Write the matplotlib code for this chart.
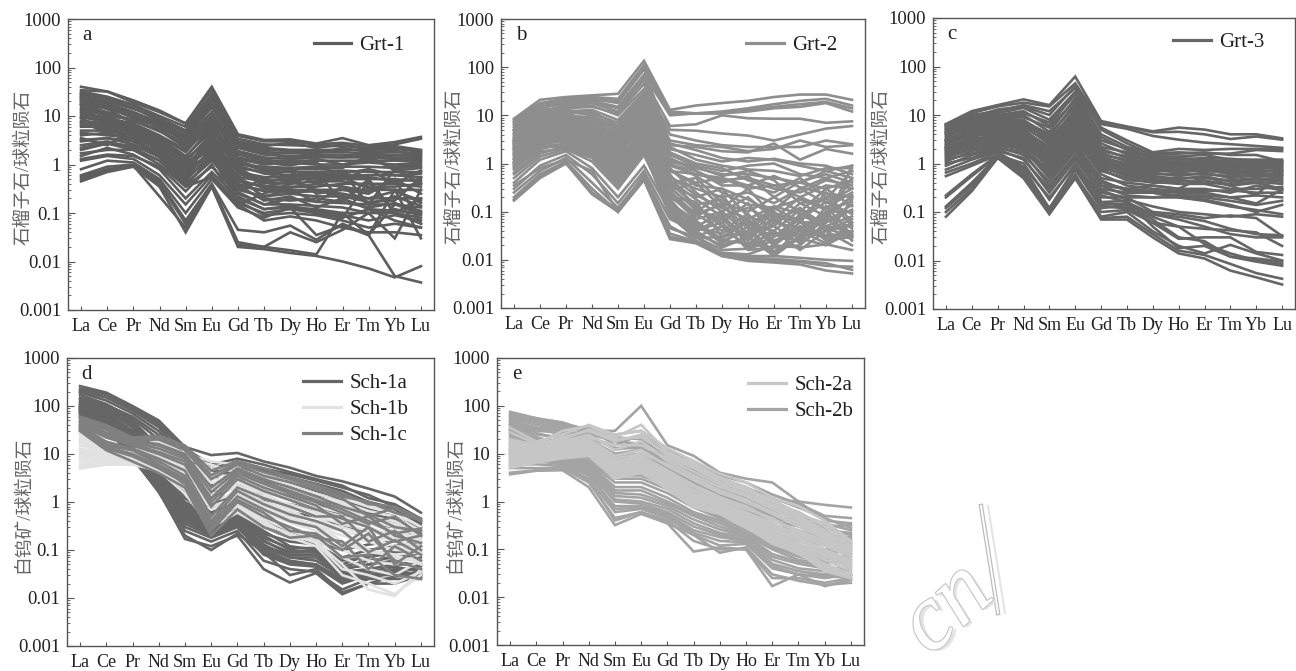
import matplotlib
matplotlib.use('Agg')
import matplotlib.pyplot as plt
import matplotlib.patheffects as pe
from matplotlib.lines import Line2D

plt.rcParams['font.family'] = ['Liberation Serif', 'Noto Sans CJK SC', 'DejaVu Sans']

ree = ['La', 'Ce', 'Pr', 'Nd', 'Sm', 'Eu', 'Gd', 'Tb', 'Dy', 'Ho', 'Er', 'Tm', 'Yb', 'Lu']
y_ticks = [0.001, 0.01, 0.1, 1, 10, 100, 1000]
y_labels = ['0.001', '0.01', '0.1', '1', '10', '100', '1000']
garnet_label = '石榴子石/球粒陨石'
scheelite_label = '白钨矿/球粒陨石'

grt1 = [
    [40, 32, 21, 13, 7, 40, 4.2, 3.2, 3.3, 2.7, 3.5, 2.5, 2.9, 3.7],
    [34, 32, 19, 12, 7, 34, 3.9, 3, 3, 2.6, 2.8, 2.4, 2.6, 3.4],
    [30, 24, 17, 10, 6, 28, 3.4, 2.6, 2.5, 2.4, 2.4, 2.2, 2.4, 2],
    [25, 20, 14, 9, 5, 22, 2.8, 2.2, 2, 2, 2, 2, 2.1, 1.9],
    [22, 18, 12, 7, 4, 18, 2.4, 1.8, 1.7, 1.8, 1.8, 1.7, 1.8, 1.7],
    [20, 15, 11, 6.5, 3.5, 15, 2.2, 1.6, 1.5, 1.6, 1.6, 1.5, 1.6, 1.5],
    [18, 14, 10, 6, 3, 12, 1.9, 1.4, 1.3, 1.4, 1.4, 1.4, 1.3, 1.3],
    [15, 11, 8, 5, 2.5, 9, 1.6, 1.2, 1.2, 1.2, 1.2, 1.2, 1.2, 1.2],
    [12, 9, 7, 4, 2, 6, 1.3, 1, 1.1, 1, 1, 1.1, 1, 1.1],
    [10, 8, 6, 3.5, 1.5, 5, 1, 0.9, 0.85, 0.9, 0.9, 0.9, 0.85, 0.9],
    [8, 7, 5, 3, 1.2, 4, 0.85, 0.7, 0.7, 0.7, 0.75, 0.7, 0.7, 0.7],
    [6, 6, 4.5, 2.5, 1, 3, 0.7, 0.55, 0.55, 0.6, 0.6, 0.6, 0.6, 0.55],
    [5, 5, 4, 2, 0.8, 2.5, 0.55, 0.45, 0.5, 0.5, 0.5, 0.5, 0.5, 0.45],
    [4, 4.5, 3, 1.7, 0.6, 2, 0.45, 0.35, 0.35, 0.35, 0.4, 0.4, 0.4, 0.35],
    [3, 3.5, 2.6, 1.4, 0.5, 1.5, 0.35, 0.3, 0.3, 0.3, 0.3, 0.3, 0.3, 0.3],
    [2.5, 3, 2.2, 1.2, 0.4, 1.2, 0.3, 0.22, 0.25, 0.22, 0.22, 0.2, 0.2, 0.2],
    [2, 2.7, 2, 1, 0.35, 0.9, 0.25, 0.15, 0.2, 0.17, 0.16, 0.15, 0.15, 0.13],
    [1.5, 2.2, 1.6, 0.8, 0.2, 0.7, 0.2, 0.12, 0.13, 0.12, 0.1, 0.1, 0.1, 0.08],
    [1.2, 1.5, 1.3, 0.6, 0.15, 0.6, 0.16, 0.1, 0.12, 0.1, 0.08, 0.12, 0.07, 0.05],
    [0.8, 1.2, 1.1, 0.5, 0.1, 0.5, 0.13, 0.08, 0.13, 0.035, 0.055, 0.035, 0.3, 0.03],
    [0.6, 0.9, 1, 0.45, 0.07, 0.4, 0.045, 0.04, 0.055, 0.028, 0.06, 0.035, 0.15, 0.1],
    [0.55, 0.8, 0.95, 0.4, 0.06, 0.38, 0.025, 0.02, 0.04, 0.025, 0.045, 0.1, 0.03, 0.3],
    [0.45, 0.7, 0.9, 0.35, 0.04, 0.35, 0.02, 0.018, 0.015, 0.013, 0.01, 0.0072, 0.0047, 0.008],
    [0.5, 0.75, 0.95, 0.22, 0.05, 0.36, 0.022, 0.02, 0.017, 0.014, 0.1, 0.035, 0.005, 0.0037],
    [9, 5, 4, 3, 0.9, 1.5, 0.6, 0.2, 0.13, 0.1, 0.08, 0.45, 0.1, 0.06],
    [17, 6, 3, 1.5, 0.35, 0.55, 0.15, 0.25, 0.4, 0.7, 0.17, 0.5, 0.1, 0.2],
    [28, 9, 6, 2.5, 0.9, 2.2, 0.3, 0.5, 0.8, 0.5, 0.7, 0.15, 0.8, 0.4],
    [3.5, 2.5, 5, 1.8, 0.7, 1.7, 0.9, 0.4, 0.6, 0.25, 0.3, 0.25, 0.5, 0.06],
    [32, 25, 17, 9, 5, 26, 3, 2.4, 2.8, 2.2, 2.6, 2, 2.2, 1.8],
    [28, 22, 15, 8, 4.5, 20, 2.6, 2, 1.9, 1.7, 2.2, 1.8, 1.9, 1.6],
    [24, 18, 12, 7.5, 3.8, 17, 2.3, 1.7, 1.4, 1.5, 1.4, 1.6, 1.4, 1.4],
    [21, 15, 9, 6, 3.2, 12, 1.4, 1.1, 0.95, 1.3, 1, 1.3, 0.9, 1],
    [17, 12, 8, 4.8, 2.8, 10, 1.2, 0.8, 0.8, 0.8, 0.85, 1.5, 0.75, 0.85],
    [14, 10, 8.5, 5, 2.2, 8, 0.95, 0.65, 0.6, 0.65, 0.65, 0.8, 0.6, 0.65],
    [11, 9, 6.5, 3.8, 1.8, 7, 0.75, 0.5, 0.45, 0.55, 0.55, 0.55, 0.45, 0.5],
    [9.5, 7.5, 5.5, 3.2, 1.4, 6, 0.65, 0.42, 0.4, 0.45, 0.45, 0.35, 0.35, 0.4],
    [7, 6.5, 5, 2.8, 1.1, 4.5, 0.5, 0.33, 0.33, 0.4, 0.35, 0.28, 0.5, 0.25],
    [6.5, 5.5, 4, 2.4, 0.9, 3.5, 0.4, 0.28, 0.27, 0.28, 0.25, 0.2, 0.28, 0.18],
    [4.5, 4, 3.6, 2, 0.75, 2.8, 0.33, 0.2, 0.18, 0.2, 0.17, 0.13, 0.16, 0.11],
    [3.2, 3.5, 3, 1.8, 0.55, 2.2, 0.27, 0.15, 0.15, 0.14, 0.13, 0.1, 0.12, 0.09],
    [2.2, 2.8, 2.4, 1.5, 0.45, 1.8, 0.22, 0.12, 0.14, 0.11, 0.09, 0.07, 0.09, 0.07],
    [1.7, 2, 2, 1.2, 0.37, 1.4, 0.18, 0.09, 0.1, 0.09, 0.07, 0.05, 0.06, 0.05],
    [1.3, 1.6, 1.5, 0.9, 0.28, 1, 0.15, 0.07, 0.085, 0.07, 0.05, 0.04, 0.04, 0.035],
    [23, 14, 7, 3.5, 1.3, 3.2, 1.1, 0.75, 0.7, 0.4, 0.55, 0.32, 0.3, 0.16],
    [19, 10, 6, 3, 1, 2.6, 0.8, 0.35, 0.45, 0.3, 0.22, 0.17, 0.18, 0.55],
    [26, 16, 11, 5.5, 2.4, 5, 1.8, 1.3, 1, 1.1, 0.5, 0.8, 0.4, 0.75],
    [13, 8, 4.5, 2.2, 0.7, 1.8, 0.5, 0.22, 0.3, 0.17, 0.35, 0.15, 0.22, 0.14],
    [7.5, 4.5, 3.4, 1.6, 0.55, 1.3, 0.38, 0.18, 0.22, 0.13, 0.2, 0.12, 0.11, 0.1],
]

grt2 = [
    [8.5, 21, 24, 26, 28, 135, 13, 16, 18, 20, 24, 27, 27, 21],
    [8, 18, 22, 24, 22, 110, 12, 11, 12, 14, 17, 20, 22, 16],
    [7, 15, 20, 22, 18, 90, 11, 11, 11, 13, 15, 17, 19, 14],
    [6, 14, 18, 20, 15, 70, 10, 11, 11, 12, 14, 15, 18, 12],
    [5, 12, 16, 18, 12, 55, 6, 6.5, 10, 8.7, 8.5, 8.5, 7, 7.5],
    [4.5, 12, 15, 16, 10, 35, 5, 4.8, 4.2, 3.8, 3, 4, 5.3, 6],
    [4, 10, 12, 13, 8, 30, 4, 3, 2.4, 2.2, 2.2, 2.2, 3, 2.5],
    [3.5, 9, 11, 12, 6, 25, 3, 2.4, 2.2, 1.8, 2, 3, 2.2, 2.4],
    [3, 9, 10, 9, 5, 20, 2.4, 2.2, 1.8, 1.7, 2.6, 1.2, 2, 1.6],
    [2.8, 8, 9, 7, 4, 16, 2, 1.5, 1.1, 1.3, 1.2, 0.9, 0.7, 0.9],
    [2.5, 7, 8, 6, 3.5, 12, 1.5, 0.9, 0.7, 0.9, 1, 0.6, 0.5, 0.7],
    [2.2, 6.5, 7, 5.5, 3, 9, 1.1, 0.8, 0.6, 0.6, 0.5, 0.4, 0.7, 0.5],
    [2, 6, 6, 5, 2.5, 8, 0.9, 0.6, 0.45, 0.5, 0.35, 0.4, 0.3, 0.45],
    [1.8, 5, 5.5, 4.5, 2, 7, 0.7, 0.4, 0.5, 0.3, 0.35, 0.2, 0.35, 0.3],
    [1.6, 4.5, 5, 4, 1.6, 6, 0.5, 0.3, 0.2, 0.25, 0.15, 0.3, 0.15, 0.3],
    [1.4, 4, 4.5, 3.5, 1.3, 5, 0.4, 0.5, 0.15, 0.1, 0.2, 0.1, 0.3, 0.13],
    [1.2, 3.5, 4, 3, 1, 4, 0.35, 0.2, 0.3, 0.08, 0.05, 0.15, 0.08, 0.2],
    [1, 3, 3.5, 2.5, 0.9, 3.5, 0.3, 0.12, 0.06, 0.15, 0.03, 0.08, 0.2, 0.05],
    [0.9, 2.5, 3, 2, 0.7, 3, 0.25, 0.08, 0.15, 0.03, 0.1, 0.04, 0.1, 0.1],
    [0.8, 2, 2.6, 1.8, 0.5, 2.5, 0.2, 0.16, 0.03, 0.06, 0.02, 0.05, 0.03, 0.04],
    [0.6, 1.6, 2.3, 1.4, 0.4, 2, 0.15, 0.05, 0.09, 0.02, 0.06, 0.12, 0.05, 0.08],
    [0.5, 1.4, 2, 1.1, 0.3, 1.5, 0.12, 0.06, 0.025, 0.04, 0.015, 0.03, 0.07, 0.035],
    [0.4, 1.2, 1.8, 0.8, 0.2, 0.9, 0.1, 0.03, 0.05, 0.018, 0.03, 0.07, 0.025, 0.03],
    [0.3, 0.9, 1.5, 0.6, 0.15, 0.7, 0.07, 0.04, 0.018, 0.03, 0.012, 0.03, 0.04, 0.02],
    [0.25, 0.7, 1.3, 0.4, 0.12, 0.55, 0.05, 0.025, 0.014, 0.013, 0.02, 0.018, 0.021, 0.016],
    [0.2, 0.6, 1.1, 0.3, 0.1, 0.5, 0.035, 0.024, 0.013, 0.012, 0.012, 0.011, 0.01, 0.0095],
    [0.18, 0.55, 1.05, 0.25, 0.1, 0.47, 0.03, 0.023, 0.012, 0.01, 0.0095, 0.009, 0.0075, 0.0072],
    [0.17, 0.5, 1, 0.23, 0.1, 0.45, 0.027, 0.022, 0.012, 0.0095, 0.0088, 0.008, 0.006, 0.0052],
    [0.35, 0.8, 1.2, 0.7, 0.1, 0.6, 0.045, 0.03, 0.013, 0.011, 0.0105, 0.0095, 0.0085, 0.0062],
    [3.2, 9, 10, 6, 2.2, 14, 0.8, 0.25, 0.1, 0.2, 0.07, 0.2, 0.12, 0.25],
    [5, 11, 9, 8, 3, 11, 0.6, 0.1, 0.22, 0.05, 0.12, 0.06, 0.25, 0.06],
    [2, 5, 6, 3, 0.8, 4.5, 0.28, 0.4, 0.12, 0.3, 0.08, 0.06, 0.06, 0.9],
    [7.5, 17, 21, 21, 20, 95, 2.6, 1.9, 1.3, 1.1, 1.25, 1, 0.9, 0.6],
    [6.5, 15, 17, 19, 14, 62, 2.2, 1.2, 0.9, 0.75, 0.7, 0.55, 0.8, 0.8],
    [5.5, 13, 14, 15, 11, 45, 1.7, 1, 0.8, 0.45, 0.3, 0.25, 0.45, 0.35],
    [4.2, 11, 13, 11, 7, 28, 1.3, 0.7, 0.35, 0.35, 0.25, 0.5, 0.2, 0.22],
    [3.7, 10, 12, 10, 5.5, 22, 1, 0.55, 0.25, 0.14, 0.12, 0.18, 0.11, 0.16],
    [3.3, 8.5, 10, 8, 4.5, 18, 0.75, 0.35, 0.3, 0.18, 0.09, 0.07, 0.16, 0.09],
    [2.9, 7.5, 8.5, 6.5, 3.8, 14, 0.55, 0.22, 0.12, 0.07, 0.13, 0.09, 0.06, 0.14],
    [2.6, 7, 7.5, 5.8, 3.2, 11, 0.45, 0.18, 0.08, 0.12, 0.06, 0.045, 0.09, 0.045],
    [2.3, 6, 6.5, 5, 2.8, 9.5, 0.38, 0.14, 0.18, 0.055, 0.04, 0.11, 0.04, 0.07],
    [2.1, 5.5, 5.8, 4.5, 2.2, 8.5, 0.32, 0.11, 0.07, 0.025, 0.08, 0.025, 0.13, 0.032],
    [1.9, 5, 5, 4, 1.9, 7.5, 0.26, 0.09, 0.04, 0.09, 0.022, 0.06, 0.03, 0.18],
    [1.7, 4.5, 4.6, 3.7, 1.5, 6.5, 0.22, 0.07, 0.1, 0.035, 0.05, 0.022, 0.05, 0.038],
    [1.5, 4, 4.2, 3.2, 1.2, 5.5, 0.18, 0.045, 0.035, 0.07, 0.025, 0.04, 0.022, 0.06],
    [1.3, 3.7, 3.8, 2.8, 1.1, 4.5, 0.15, 0.065, 0.025, 0.022, 0.035, 0.033, 0.033, 0.028],
    [1.1, 3.2, 3.2, 2.3, 0.8, 3.8, 0.13, 0.04, 0.06, 0.016, 0.018, 0.02, 0.06, 0.11],
    [0.95, 2.8, 2.8, 2, 0.6, 3.2, 0.11, 0.035, 0.02, 0.03, 0.014, 0.028, 0.02, 0.04],
    [0.75, 2.2, 2.2, 1.5, 0.45, 2.2, 0.09, 0.03, 0.016, 0.017, 0.025, 0.035, 0.08, 0.5],
    [0.65, 1.8, 2, 1.3, 0.35, 1.8, 0.08, 0.028, 0.03, 0.04, 0.11, 0.3, 0.5, 0.3],
    [2.4, 6.5, 7, 4.2, 1.4, 10, 0.7, 0.6, 0.5, 0.35, 0.55, 0.32, 0.24, 0.2],
    [3, 8, 8, 5, 1.8, 12, 0.95, 0.7, 0.4, 0.55, 0.2, 0.42, 0.6, 0.4],
    [4.8, 10, 11, 7.5, 2.6, 16, 1.2, 0.85, 0.55, 0.7, 0.45, 0.15, 0.18, 0.7],
    [2.7, 6.8, 7.2, 5, 2, 8, 0.42, 0.13, 0.05, 0.018, 0.04, 0.016, 0.04, 0.055],
    [1.25, 3.4, 3.6, 2.6, 1, 4.2, 0.14, 0.055, 0.022, 0.05, 0.013, 0.045, 0.028, 0.035],
    [1.05, 3, 3, 2.2, 0.75, 3.4, 0.12, 0.038, 0.08, 0.028, 0.07, 0.03, 0.1, 0.025],
    [0.85, 2.4, 2.5, 1.6, 0.55, 2.6, 0.1, 0.05, 0.028, 0.065, 0.02, 0.09, 0.045, 0.03],
    [1.55, 4.2, 4.4, 3.4, 1.25, 5, 0.2, 0.09, 0.14, 0.045, 0.033, 0.024, 0.08, 0.21],
]

grt3 = [
    [6.5, 12, 16, 21, 16, 62, 7.5, 5.8, 4.6, 5.5, 5, 4, 4, 3.3],
    [6.4, 11, 15, 18, 15, 45, 7, 5.6, 4.4, 4.5, 4, 3.2, 3.6, 3.1],
    [6, 9, 13, 15, 10, 40, 6.5, 5.2, 3.7, 3.1, 2.7, 2.5, 2.3, 2.1],
    [5.5, 9, 11, 14, 8, 30, 5.5, 3, 1.7, 2, 1.9, 2, 2, 2],
    [5, 8, 10, 12, 6, 28, 4, 2.2, 1.6, 1.7, 1.6, 1.6, 1.9, 1.8],
    [4.5, 7, 9, 10, 4.5, 22, 3, 2, 1.4, 1.4, 1.5, 1.2, 1.2, 1.2],
    [4, 6.5, 8, 8, 3.5, 18, 2.2, 1.7, 1.3, 1.3, 1.2, 1.1, 1.1, 1.1],
    [3.5, 6, 7, 7, 3, 13, 1.8, 1.4, 1.1, 1.1, 1.1, 1, 1, 1],
    [3, 5, 6, 6, 2.5, 10, 1.5, 1.2, 1, 1, 1, 0.9, 0.9, 0.9],
    [2.7, 4.5, 5.5, 5, 2, 8, 1.3, 1, 0.9, 0.9, 0.9, 0.8, 0.8, 0.8],
    [2.4, 4, 5, 4.5, 1.7, 6, 1.1, 0.9, 0.8, 0.75, 0.8, 0.7, 0.7, 0.7],
    [2.1, 3.5, 4.5, 4, 1.4, 5, 1, 0.8, 0.7, 0.7, 0.7, 0.65, 0.6, 0.6],
    [1.9, 3, 4, 3.5, 1.2, 4, 0.9, 0.7, 0.6, 0.6, 0.6, 0.55, 0.55, 0.55],
    [1.7, 2.8, 3.5, 3, 1, 3.5, 0.8, 0.6, 0.5, 0.5, 0.5, 0.45, 0.5, 0.45],
    [1.5, 2.5, 3, 2.6, 0.8, 3, 0.7, 0.5, 0.4, 0.42, 0.45, 0.35, 0.4, 0.3],
    [1.3, 2, 2.6, 2.2, 0.6, 2.5, 0.5, 0.4, 0.35, 0.3, 0.3, 0.25, 0.35, 0.28],
    [1.1, 1.8, 2.4, 2, 0.5, 2, 0.4, 0.3, 0.27, 0.25, 0.25, 0.2, 0.15, 0.29],
    [0.9, 1.5, 2.1, 1.7, 0.35, 1.5, 0.3, 0.25, 0.25, 0.2, 0.18, 0.14, 0.1, 0.14],
    [0.75, 1.2, 1.8, 1.3, 0.25, 1.2, 0.25, 0.2, 0.2, 0.2, 0.17, 0.13, 0.11, 0.09],
    [0.55, 0.9, 1.5, 1, 0.18, 1, 0.2, 0.2, 0.1, 0.09, 0.075, 0.085, 0.075, 0.032],
    [0.22, 0.6, 1.5, 0.8, 0.12, 0.8, 0.14, 0.15, 0.09, 0.08, 0.065, 0.045, 0.035, 0.033],
    [0.2, 0.55, 1.45, 0.7, 0.11, 0.75, 0.12, 0.14, 0.08, 0.05, 0.045, 0.042, 0.038, 0.02],
    [0.13, 0.4, 1.4, 0.6, 0.1, 0.55, 0.1, 0.11, 0.06, 0.028, 0.03, 0.03, 0.015, 0.013],
    [0.08, 0.27, 1.3, 0.5, 0.09, 0.5, 0.08, 0.1, 0.04, 0.02, 0.014, 0.021, 0.014, 0.01],
    [0.1, 0.3, 1.35, 0.55, 0.1, 0.5, 0.07, 0.07, 0.03, 0.014, 0.011, 0.0062, 0.0045, 0.0032],
    [0.12, 0.35, 1.4, 0.6, 0.1, 0.6, 0.075, 0.08, 0.035, 0.016, 0.013, 0.0085, 0.0055, 0.0042],
    [3, 4, 4, 2.5, 0.9, 4, 0.16, 0.17, 0.05, 0.018, 0.02, 0.012, 0.0095, 0.0078],
    [2.2, 3.2, 3.5, 1.8, 0.7, 3, 0.13, 0.12, 0.06, 0.05, 0.022, 0.014, 0.01, 0.0085],
    [4.2, 5, 6, 7, 4, 2.7, 0.35, 0.3, 0.35, 0.3, 0.55, 0.35, 0.22, 0.7],
    [6.2, 10, 12, 16, 12, 36, 5, 2.6, 1.5, 1.6, 1.7, 1.5, 1.5, 1.1],
    [5.8, 8.5, 9.5, 11, 7, 26, 3.5, 1.9, 1.25, 1.2, 1.3, 1.25, 1.15, 1.05],
    [5.2, 7.5, 8.5, 9, 5.5, 20, 2.6, 1.55, 1.15, 1.05, 1.15, 0.95, 1.05, 0.95],
    [4.8, 7, 7.5, 7.5, 4, 15, 2, 1.3, 1.05, 0.95, 1.05, 0.85, 0.95, 0.85],
    [4.3, 6, 6.5, 6.5, 3.2, 12, 1.65, 1.1, 0.95, 0.85, 0.95, 0.75, 0.85, 0.75],
    [3.8, 5.5, 6, 5.5, 2.8, 11, 1.4, 0.95, 0.85, 0.8, 0.85, 0.68, 0.75, 0.65],
    [3.2, 5, 5.2, 4.8, 2.2, 9, 1.2, 0.85, 0.75, 0.65, 0.75, 0.6, 0.65, 0.58],
    [2.9, 4.2, 4.8, 4.2, 1.9, 7, 1.05, 0.75, 0.65, 0.55, 0.65, 0.5, 0.58, 0.5],
    [2.5, 3.8, 4.2, 3.8, 1.6, 5.5, 0.95, 0.65, 0.55, 0.48, 0.55, 0.42, 0.47, 0.42],
    [2.2, 3.2, 3.8, 3.2, 1.3, 4.5, 0.85, 0.55, 0.45, 0.45, 0.4, 0.38, 0.42, 0.38],
    [2, 3, 3.4, 2.8, 1.1, 3.8, 0.75, 0.45, 0.42, 0.38, 0.38, 0.3, 0.3, 0.33],
    [1.8, 2.6, 3.1, 2.4, 0.9, 3.2, 0.6, 0.35, 0.3, 0.27, 0.27, 0.28, 0.25, 0.25],
    [1.6, 2.3, 2.8, 2.1, 0.7, 2.7, 0.45, 0.27, 0.25, 0.22, 0.22, 0.2, 0.22, 0.2],
    [1.4, 2.1, 2.4, 1.9, 0.55, 2.2, 0.35, 0.22, 0.2, 0.22, 0.2, 0.17, 0.14, 0.17],
    [1.2, 1.6, 2.2, 1.5, 0.42, 1.8, 0.28, 0.18, 0.13, 0.1, 0.09, 0.08, 0.09, 0.08],
    [1, 1.3, 2, 1.2, 0.3, 1.4, 0.22, 0.16, 0.09, 0.07, 0.05, 0.035, 0.03, 0.03],
    [0.65, 1, 1.7, 0.85, 0.2, 0.9, 0.16, 0.13, 0.07, 0.03, 0.025, 0.012, 0.011, 0.0095],
]

sch1a = [
    [260, 190, 100, 50, 14, 9.5, 10.5, 7, 5.2, 3.5, 2.7, 1.9, 1.3, 0.6],
    [210, 170, 90, 40, 12, 5, 7, 5, 3.8, 2.8, 2, 1.4, 0.8, 0.4],
    [190, 130, 70, 30, 8, 3, 5, 4, 3, 2.2, 1.4, 1, 0.7, 0.35],
    [170, 110, 55, 20, 4, 1.5, 3, 2.8, 2.2, 1.4, 1.1, 0.7, 0.5, 0.25],
    [140, 100, 48, 10, 2.5, 0.9, 1.5, 1.5, 1.4, 1, 0.5, 0.6, 0.35, 0.3],
    [120, 90, 42, 7, 1.5, 0.6, 1, 0.8, 0.6, 0.5, 0.3, 0.25, 0.22, 0.2],
    [110, 85, 35, 5, 1, 0.5, 0.6, 0.4, 0.25, 0.12, 0.07, 0.1, 0.12, 0.15],
    [100, 75, 30, 4, 0.8, 0.4, 0.55, 0.25, 0.12, 0.1, 0.05, 0.08, 0.1, 0.1],
    [95, 70, 25, 3.5, 0.7, 0.35, 0.5, 0.2, 0.1, 0.09, 0.04, 0.05, 0.08, 0.07],
    [90, 60, 20, 3, 0.6, 0.3, 0.45, 0.16, 0.08, 0.08, 0.035, 0.04, 0.05, 0.05],
    [85, 55, 15, 2.5, 0.5, 0.25, 0.4, 0.13, 0.07, 0.07, 0.03, 0.03, 0.04, 0.04],
    [80, 50, 12, 2, 0.4, 0.22, 0.35, 0.1, 0.06, 0.05, 0.025, 0.025, 0.035, 0.03],
    [75, 45, 10, 1.9, 0.3, 0.18, 0.3, 0.08, 0.05, 0.045, 0.02, 0.03, 0.03, 0.028],
    [70, 40, 9, 1.8, 0.25, 0.15, 0.25, 0.06, 0.04, 0.035, 0.015, 0.025, 0.025, 0.025],
    [60, 35, 8, 1.7, 0.17, 0.12, 0.2, 0.04, 0.021, 0.033, 0.012, 0.02, 0.02, 0.03],
    [65, 38, 8.5, 1.6, 0.2, 0.1, 0.22, 0.09, 0.03, 0.04, 0.013, 0.02, 0.028, 0.035],
    [230, 180, 95, 45, 13, 6, 8, 6, 4.2, 3, 2.2, 1.2, 0.9, 0.45],
    [200, 150, 80, 36, 9, 4, 6, 4.5, 3.3, 2.4, 1.7, 1, 0.75, 0.38],
    [150, 105, 60, 25, 6, 2.2, 4, 3.2, 2.5, 1.7, 1.2, 0.55, 0.45, 0.3],
    [130, 95, 50, 14, 3, 1.2, 2.2, 2, 1.7, 1.2, 0.8, 0.45, 0.4, 0.22],
    [115, 92, 46, 9, 2, 0.75, 1.2, 1.1, 0.9, 0.7, 0.6, 0.35, 0.3, 0.18],
    [105, 80, 38, 6, 1.2, 0.55, 0.7, 0.3, 0.2, 0.15, 0.1, 0.13, 0.15, 0.12],
    [98, 72, 28, 4.5, 0.9, 0.42, 0.58, 0.22, 0.15, 0.13, 0.06, 0.07, 0.09, 0.08],
    [92, 65, 22, 3.8, 0.75, 0.38, 0.52, 0.18, 0.11, 0.11, 0.045, 0.06, 0.07, 0.06],
    [88, 58, 18, 3.2, 0.65, 0.32, 0.48, 0.15, 0.09, 0.095, 0.04, 0.05, 0.06, 0.045],
    [82, 52, 14, 2.7, 0.55, 0.28, 0.42, 0.12, 0.08, 0.08, 0.033, 0.035, 0.045, 0.035],
    [78, 48, 11, 2.2, 0.45, 0.24, 0.38, 0.11, 0.07, 0.06, 0.028, 0.028, 0.038, 0.03],
    [72, 42, 9.5, 2, 0.35, 0.2, 0.32, 0.09, 0.055, 0.05, 0.022, 0.032, 0.032, 0.026],
]

sch1b = [
    [30, 18, 12, 20, 10, 7, 6, 4, 3, 2, 1.2, 0.8, 0.6, 0.3],
    [25, 15, 12, 15, 8, 6, 4, 2.5, 1.8, 1.2, 0.9, 0.5, 0.4, 0.2],
    [20, 12, 10, 12, 7, 4, 3, 1.8, 1.2, 0.8, 0.6, 0.4, 0.3, 0.15],
    [15, 11, 9, 11, 6, 2, 2.2, 1.3, 0.9, 0.6, 0.4, 0.3, 0.2, 0.2],
    [12, 10, 8, 10, 5, 1, 1.6, 0.9, 0.6, 0.4, 0.3, 0.2, 0.15, 0.12],
    [10, 9, 7.5, 8, 4, 0.8, 1.2, 0.7, 0.45, 0.3, 0.2, 0.15, 0.1, 0.1],
    [8, 8, 7, 6, 3, 0.5, 0.9, 0.5, 0.3, 0.2, 0.1, 0.06, 0.05, 0.08],
    [7, 7, 6.5, 5, 2, 0.35, 0.7, 0.4, 0.2, 0.15, 0.05, 0.015, 0.011, 0.04],
    [5, 6, 6, 4.5, 1.5, 0.3, 0.6, 0.3, 0.18, 0.12, 0.03, 0.02, 0.012, 0.03],
    [12, 9, 7, 16, 9, 2.5, 2.5, 1.5, 0.8, 0.5, 0.25, 0.1, 0.07, 0.06],
    [18, 11, 8, 13, 6, 1.5, 1.9, 1, 0.7, 0.35, 0.15, 0.1, 0.08, 0.05],
    [28, 17, 11, 18, 9, 5, 5, 3.2, 2.3, 1.5, 1, 0.65, 0.5, 0.25],
    [22, 14, 11, 14, 7.5, 3.5, 3.5, 2.2, 1.5, 1, 0.75, 0.45, 0.35, 0.18],
    [17, 12, 9.5, 12, 6.5, 3, 2.8, 1.6, 1.1, 0.7, 0.5, 0.35, 0.25, 0.16],
    [13, 10, 8.5, 11, 5.5, 1.8, 2, 1.2, 0.8, 0.5, 0.35, 0.25, 0.18, 0.14],
    [11, 9.5, 8, 9, 4.5, 1.2, 1.4, 0.8, 0.5, 0.32, 0.25, 0.18, 0.12, 0.11],
    [9, 8.5, 7.2, 7, 3.5, 0.7, 1.1, 0.6, 0.38, 0.25, 0.14, 0.09, 0.08, 0.09],
    [6, 7.5, 6.8, 5.5, 2.5, 0.45, 0.8, 0.45, 0.25, 0.17, 0.07, 0.04, 0.03, 0.06],
    [5.5, 6.5, 6.2, 5, 1.8, 0.4, 0.65, 0.35, 0.22, 0.14, 0.04, 0.03, 0.02, 0.035],
]

sch1c = [
    [60, 40, 22, 24, 15, 4.5, 7, 5, 3.3, 2.3, 1.5, 0.9, 0.8, 0.45],
    [55, 32, 20, 20, 12, 3, 6, 3.5, 2.6, 1.8, 1.2, 0.5, 0.75, 0.4],
    [50, 28, 19, 16, 10, 2, 5, 3, 2, 1.3, 0.8, 0.55, 0.3, 0.25],
    [45, 25, 17, 13, 8, 1.2, 4, 2.4, 1.5, 1, 0.6, 0.35, 0.5, 0.2],
    [40, 22, 15, 10, 6, 0.8, 3, 1.7, 1.1, 0.7, 0.45, 0.3, 0.15, 0.2],
    [38, 18, 13, 8, 4.5, 0.5, 2, 1.2, 0.8, 0.5, 0.5, 0.15, 0.25, 0.1],
    [35, 15, 12, 6, 3, 0.35, 1.3, 0.7, 0.4, 0.3, 0.12, 0.3, 0.05, 0.12],
    [32, 13, 9, 5, 2.5, 0.25, 1, 0.5, 0.3, 0.18, 0.15, 0.04, 0.12, 0.06],
    [30, 12, 7, 4, 2, 0.2, 0.7, 0.3, 0.18, 0.2, 0.07, 0.08, 0.03, 0.025],
    [58, 36, 21, 22, 14, 3.6, 6.5, 4.2, 3, 2, 1.3, 1, 0.6, 0.42],
    [48, 26, 18, 15, 9, 1.6, 4.5, 2.7, 1.7, 1.1, 0.7, 0.4, 0.22, 0.28],
    [42, 24, 16, 11, 7, 1, 3.5, 2, 1.3, 0.85, 0.35, 0.5, 0.2, 0.14],
    [36, 16, 12, 7, 3.5, 0.4, 1.7, 0.9, 0.55, 0.4, 0.25, 0.09, 0.16, 0.08],
    [33, 14, 10, 5.5, 2.8, 0.3, 1.1, 0.6, 0.25, 0.22, 0.1, 0.22, 0.06, 0.04],
]

sch2b = [
    [75, 55, 45, 30, 30, 100, 15, 9, 4, 3, 2.5, 1, 0.85, 0.75],
    [65, 55, 40, 28, 25, 30, 12, 7, 3.5, 2.5, 1.4, 0.9, 0.5, 0.45],
    [60, 45, 35, 35, 15, 25, 10, 5, 3, 2, 1.1, 1, 0.4, 0.35],
    [50, 35, 30, 25, 12, 15, 7, 4, 2.2, 1.5, 0.7, 0.6, 0.3, 0.32],
    [45, 30, 28, 20, 10, 12, 6, 3, 1.6, 1, 0.5, 0.4, 0.25, 0.22],
    [40, 25, 22, 15, 8, 8, 4.5, 2, 1.2, 0.7, 0.4, 0.3, 0.2, 0.18],
    [35, 20, 18, 12, 6, 6, 3.5, 1.6, 0.9, 0.6, 0.25, 0.2, 0.15, 0.15],
    [30, 18, 14, 9, 4, 4, 2.5, 1.2, 0.7, 0.4, 0.2, 0.15, 0.1, 0.12],
    [25, 15, 12, 7, 3, 3, 1.8, 0.9, 0.5, 0.3, 0.15, 0.1, 0.08, 0.1],
    [20, 12, 10, 6, 2, 2, 1.2, 0.6, 0.4, 0.22, 0.12, 0.08, 0.06, 0.08],
    [15, 10, 8, 5, 1.5, 1.4, 0.9, 0.5, 0.3, 0.2, 0.1, 0.06, 0.05, 0.06],
    [12, 9, 7, 4, 1.1, 1, 0.7, 0.35, 0.22, 0.18, 0.07, 0.05, 0.04, 0.04],
    [8, 7, 6, 3.5, 0.8, 0.8, 0.55, 0.25, 0.18, 0.15, 0.05, 0.035, 0.03, 0.03],
    [6, 6, 5.5, 3, 0.6, 0.7, 0.45, 0.2, 0.12, 0.13, 0.04, 0.03, 0.025, 0.03],
    [5, 5, 5, 2.5, 0.45, 0.6, 0.4, 0.15, 0.1, 0.1, 0.025, 0.025, 0.02, 0.025],
    [3.7, 4.4, 4.5, 2, 0.32, 0.55, 0.35, 0.09, 0.11, 0.1, 0.017, 0.03, 0.017, 0.023],
    [4, 4.5, 4.8, 2.8, 0.4, 0.6, 0.35, 0.2, 0.085, 0.11, 0.03, 0.022, 0.018, 0.02],
    [70, 50, 42, 32, 22, 20, 9, 5.5, 2.8, 1.9, 1.2, 0.75, 0.45, 0.28],
    [62, 48, 38, 26, 18, 16, 8, 4.5, 2.4, 1.6, 0.9, 0.5, 0.35, 0.25],
    [55, 40, 32, 22, 13, 13, 6.5, 3.5, 1.9, 1.2, 0.65, 0.45, 0.28, 0.2],
    [48, 33, 25, 17, 9, 10, 5, 2.5, 1.4, 0.85, 0.45, 0.35, 0.22, 0.16],
    [42, 27, 20, 13, 7, 7, 4, 1.9, 1.05, 0.65, 0.32, 0.25, 0.17, 0.13],
    [37, 22, 16, 10, 5, 5, 3, 1.4, 0.8, 0.5, 0.22, 0.17, 0.12, 0.11],
    [32, 19, 13, 8, 3.5, 3.5, 2.1, 1, 0.6, 0.35, 0.17, 0.12, 0.09, 0.09],
    [27, 16, 11, 6.5, 2.5, 2.5, 1.5, 0.75, 0.45, 0.25, 0.13, 0.09, 0.07, 0.07],
    [22, 13, 9, 5.5, 1.7, 1.7, 1, 0.55, 0.35, 0.21, 0.11, 0.07, 0.055, 0.05],
    [17, 11, 8.5, 4.5, 1.3, 1.2, 0.8, 0.42, 0.26, 0.19, 0.08, 0.055, 0.045, 0.035],
    [13, 9.5, 7.5, 4.2, 1, 0.9, 0.6, 0.3, 0.2, 0.16, 0.06, 0.04, 0.035, 0.028],
    [10, 8, 6.5, 3.8, 0.7, 0.75, 0.5, 0.22, 0.15, 0.14, 0.045, 0.03, 0.028, 0.025],
]

sch2a = [
    [35, 18, 25, 40, 25, 30, 13, 7, 3.8, 2.5, 1.2, 0.8, 0.4, 0.15],
    [28, 16, 30, 38, 22, 40, 11, 6, 3.2, 2, 1, 0.6, 0.3, 0.12],
    [20, 15, 22, 30, 18, 25, 9, 5, 2.6, 1.6, 0.9, 0.5, 0.25, 0.11],
    [16, 15, 18, 25, 12, 18, 7, 3.5, 2, 1.3, 0.7, 0.4, 0.2, 0.1],
    [14, 14, 16, 20, 9, 12, 5.5, 2.8, 1.5, 1, 0.55, 0.3, 0.17, 0.09],
    [12, 13, 15, 16, 7, 9, 4.5, 2.2, 1.2, 0.8, 0.4, 0.25, 0.15, 0.08],
    [11, 12, 14, 15, 6, 7.5, 3.8, 1.7, 1, 0.6, 0.35, 0.2, 0.13, 0.07],
    [10, 11, 13, 14, 5, 7, 3.2, 1.4, 0.9, 0.5, 0.3, 0.17, 0.1, 0.06],
    [9, 10, 12, 12, 4.5, 6, 2.8, 1.2, 0.8, 0.45, 0.25, 0.15, 0.09, 0.05],
    [8, 9, 11, 11, 4, 5, 2.4, 1.1, 0.7, 0.4, 0.2, 0.12, 0.07, 0.04],
    [7, 8, 10, 10, 3.5, 4.5, 2.1, 0.9, 0.65, 0.35, 0.18, 0.1, 0.05, 0.03],
    [6, 7, 9, 9.5, 3.2, 4, 2, 0.8, 0.6, 0.3, 0.15, 0.09, 0.04, 0.025],
    [5, 6.5, 8, 9, 3, 4, 1.8, 0.75, 0.55, 0.28, 0.14, 0.08, 0.04, 0.028],
    [18, 16, 20, 32, 20, 22, 10, 5.5, 3, 1.8, 1.1, 0.55, 0.35, 0.14],
    [15, 14, 17, 22, 15, 15, 8, 4.2, 2.3, 1.4, 0.8, 0.45, 0.22, 0.12],
    [13, 13, 15, 18, 8, 10, 6, 3, 1.7, 1.1, 0.6, 0.35, 0.18, 0.1],
    [11.5, 12.5, 14.5, 15.5, 6.5, 8, 4, 2, 1.1, 0.7, 0.45, 0.22, 0.14, 0.08],
    [10.5, 11.5, 13.5, 14.5, 5.5, 7.5, 3.5, 1.6, 0.95, 0.55, 0.32, 0.19, 0.12, 0.07],
    [9.5, 10.5, 12.5, 13, 4.8, 6.5, 3, 1.3, 0.85, 0.48, 0.28, 0.16, 0.095, 0.055],
    [8.5, 9.5, 11.5, 11.5, 4.2, 5.5, 2.6, 1.15, 0.75, 0.42, 0.22, 0.13, 0.08, 0.045],
    [7.5, 8.5, 10.5, 10.5, 3.8, 4.8, 2.2, 1, 0.68, 0.38, 0.19, 0.11, 0.06, 0.035],
    [6.5, 7.5, 9.5, 10, 3.4, 4.2, 2.05, 0.85, 0.62, 0.32, 0.16, 0.1, 0.045, 0.03],
    [5.5, 6.8, 8.5, 9.2, 3.1, 4.1, 1.9, 0.78, 0.58, 0.3, 0.13, 0.085, 0.035, 0.025],
]

# pixel boxes of the panels: left, right, top, bottom
W, H = 1296, 671
panels = [
    dict(box=(68, 434, 19, 310), letter='a', ylab=garnet_label, labx=-0.098,
         groups=[('Grt-1', grt1, '#5e5e5e')], leg=(0.651, 0.968)),
    dict(box=(501, 865, 19, 308), letter='b', ylab=garnet_label, labx=-0.102,
         groups=[('Grt-2', grt2, '#8e8e8e')], leg=(0.654, 0.968)),
    dict(box=(933, 1295, 18, 309), letter='c', ylab=garnet_label, labx=-0.118,
         groups=[('Grt-3', grt3, '#666666')], leg=(0.644, 0.975)),
    dict(box=(67, 434, 358, 646), letter='d', ylab=scheelite_label, labx=-0.095,
         groups=[('Sch-1a', sch1a, '#666666'), ('Sch-1b', sch1b, '#e2e2e2'), ('Sch-1c', sch1c, '#808080')],
         leg=(0.624, 0.971)),
    dict(box=(497, 864, 358, 645), letter='e', ylab=scheelite_label, labx=-0.09,
         groups=[('Sch-2b', sch2b, '#a4a4a4'), ('Sch-2a', sch2a, '#c6c6c6')], leg=(0.665, 0.964)),
]

fig = plt.figure(figsize=(W / 100, H / 100), dpi=100)

for p in panels:
    left, right, top, bottom = p['box']
    ax = fig.add_axes([left / W, 1 - bottom / H, (right - left) / W, (bottom - top) / H])
    for name, rows, colour in p['groups']:
        for row in rows:
            ax.plot(range(len(ree)), row, color=colour, lw=1.9, solid_joinstyle='miter')
    ax.set_yscale('log')
    ax.set_ylim(0.001, 1000)
    ax.set_xlim(-0.5, 13.5)
    ax.set_xticks(range(len(ree)))
    ax.set_xticklabels(ree, fontsize=13, color='#222222')
    ax.set_yticks(y_ticks)
    ax.set_yticklabels(y_labels, fontsize=13.5, color='#222222')
    ax.tick_params(axis='x', direction='in', length=3, width=0.8, color='#555555', pad=6)
    ax.tick_params(axis='y', which='major', direction='in', length=5, width=0.8, color='#555555', pad=5)
    ax.tick_params(axis='y', which='minor', direction='in', length=2.5, width=0.6, color='#555555')
    for s in ax.spines.values():
        s.set_color('#555555')
        s.set_linewidth(1.0)
    ax.set_ylabel(p['ylab'], fontsize=13.5, color='#666666')
    ax.yaxis.set_label_coords(p['labx'], 0.49)
    ax.text(0.04, 0.975, p['letter'], transform=ax.transAxes, fontsize=15, va='top', color='#222222')
    order = sorted(p['groups'], key=lambda g: g[0])
    handles = [Line2D([], [], color=g[2], lw=2.3) for g in order]
    ax.legend(handles, [g[0] for g in order], loc='upper left', bbox_to_anchor=p['leg'], frameon=False,
              fontsize=15, handlelength=1.8, handletextpad=0.4, labelspacing=0.3,
              borderaxespad=0, borderpad=0.35, labelcolor='#222222')

# hollow watermark in the empty corner
fig.text(952 / W, 1 - 610 / H, 'cn', fontsize=68, rotation=42, style='italic', color='#e4e4e4',
         ha='center', va='center')
fig.text(948 / W, 1 - 610 / H, 'cn', fontsize=68, rotation=42, style='italic', color='white',
         ha='center', va='center',
         path_effects=[pe.Stroke(linewidth=1.6, foreground='#c4c4c4'), pe.Normal()])
fig.add_artist(Line2D([981 / W, 998 / W], [1 - 506 / H, 1 - 613 / H], color='#bdbdbd', lw=3.2))
fig.add_artist(Line2D([981 / W, 998 / W], [1 - 506 / H, 1 - 613 / H], color='white', lw=1.4))
fig.add_artist(Line2D([988 / W, 1005 / W], [1 - 506 / H, 1 - 613 / H], color='#e4e4e4', lw=1.5))

fig.savefig('out.png', dpi=100)
